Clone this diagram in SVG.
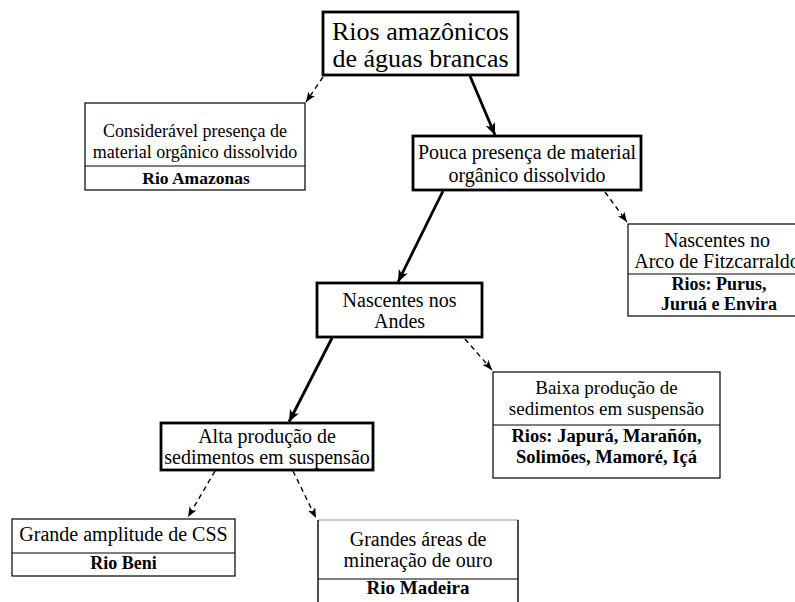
<svg xmlns="http://www.w3.org/2000/svg" width="795" height="602" viewBox="0 0 795 602">
<style>
text{font-family:"Liberation Serif","Times New Roman",serif;fill:#000;text-anchor:middle}
.b{font-weight:bold}
.thick{fill:#fff;stroke:#000;stroke-width:2.8}
.thin{fill:#fff;stroke:#000;stroke-width:1.2}
.div{stroke:#000;stroke-width:1.2}
.solid{stroke:#000;stroke-width:2.8;fill:none;marker-end:url(#ah)}
.dash{stroke:#000;stroke-width:1.4;fill:none;stroke-dasharray:5,4;marker-end:url(#ahs)}
</style>
<defs>
<marker id="ah" markerUnits="userSpaceOnUse" markerWidth="14" markerHeight="12" refX="12" refY="5" orient="auto">
<path d="M0,0 L12,5 L0,10 L3,5 z" fill="#000"/>
</marker>
<marker id="ahs" markerUnits="userSpaceOnUse" markerWidth="12" markerHeight="10" refX="10" refY="4" orient="auto">
<path d="M0,0 L10,4 L0,8 L2.5,4 z" fill="#000"/>
</marker>
</defs>
<rect width="795" height="602" fill="#fff"/>
<g id="connectors">
<line class="solid" x1="470" y1="76" x2="495" y2="135"/>
<line class="dash" x1="323" y1="77" x2="306" y2="102"/>
<line class="dash" x1="605" y1="192" x2="627" y2="222"/>
<line class="solid" x1="443" y1="191" x2="398" y2="282"/>
<line class="dash" x1="465" y1="339" x2="492" y2="370"/>
<line class="solid" x1="332" y1="338" x2="289" y2="422"/>
<line class="dash" x1="215" y1="471" x2="188" y2="517"/>
<line class="dash" x1="293" y1="471" x2="316" y2="518"/>
</g>
<g id="n-top">
<rect class="thick" x="323" y="12" width="195" height="63"/>
<text x="420.5" y="40" font-size="26">Rios amazônicos</text>
<text x="420.5" y="67" font-size="26">de águas brancas</text>
</g>
<g id="n-consideravel">
<rect class="thin" x="85" y="103" width="220" height="87"/>
<line class="div" x1="85" y1="166" x2="305" y2="166"/>
<text x="195" y="137" font-size="18">Considerável presença de</text>
<text x="195" y="158" font-size="18">material orgânico dissolvido</text>
<text class="b" x="196" y="184" font-size="17.5">Rio Amazonas</text>
</g>
<g id="n-pouca">
<rect class="thick" x="413" y="136" width="228" height="54"/>
<text x="527" y="159" font-size="20">Pouca presença de material</text>
<text x="527" y="182" font-size="20">orgânico dissolvido</text>
</g>
<g id="n-fitz">
<rect class="thin" x="628" y="224" width="178" height="92"/>
<line class="div" x1="628" y1="274" x2="806" y2="274"/>
<text x="717" y="247" font-size="20">Nascentes no</text>
<text x="717" y="268" font-size="20">Arco de Fitzcarraldo</text>
<text class="b" x="719" y="290" font-size="18">Rios: Purus,</text>
<text class="b" x="719" y="310" font-size="18">Juruá e Envira</text>
</g>
<g id="n-andes">
<rect class="thick" x="317" y="283" width="165" height="54"/>
<text x="399.5" y="307" font-size="20">Nascentes nos</text>
<text x="399.5" y="328" font-size="20">Andes</text>
</g>
<g id="n-baixa">
<rect class="thin" x="493" y="372" width="227" height="106"/>
<line class="div" x1="493" y1="425" x2="720" y2="425"/>
<text x="606.5" y="394" font-size="19">Baixa produção de</text>
<text x="606.5" y="415" font-size="19">sedimentos em suspensão</text>
<text class="b" x="606.5" y="442" font-size="18.5">Rios: Japurá, Marañón,</text>
<text class="b" x="606.5" y="463" font-size="18.5">Solimões, Mamoré, Içá</text>
</g>
<g id="n-alta">
<rect class="thick" x="161" y="423" width="212" height="47"/>
<text x="267" y="443" font-size="20">Alta produção de</text>
<text x="267" y="464" font-size="20">sedimentos em suspensão</text>
</g>
<g id="n-grande">
<rect class="thin" x="12" y="519" width="223" height="57"/>
<line class="div" x1="12" y1="553" x2="235" y2="553"/>
<text x="123.5" y="541" font-size="20">Grande amplitude de CSS</text>
<text class="b" x="123.5" y="569" font-size="18">Rio Beni</text>
</g>
<g id="n-madeira">
<rect x="318" y="520" width="200" height="92" fill="#fff" stroke="none"/>
<line x1="318" y1="520" x2="518" y2="520" stroke="#999" stroke-width="1.2"/>
<line x1="318" y1="520" x2="318" y2="612" stroke="#000" stroke-width="1.4"/>
<line x1="518" y1="520" x2="518" y2="612" stroke="#000" stroke-width="1.4"/>
<line class="div" x1="318" y1="579" x2="518" y2="579"/>
<text x="418" y="546" font-size="20">Grandes áreas de</text>
<text x="418" y="567" font-size="20">mineração de ouro</text>
<text class="b" x="418" y="594" font-size="19">Rio Madeira</text>
</g>
</svg>
